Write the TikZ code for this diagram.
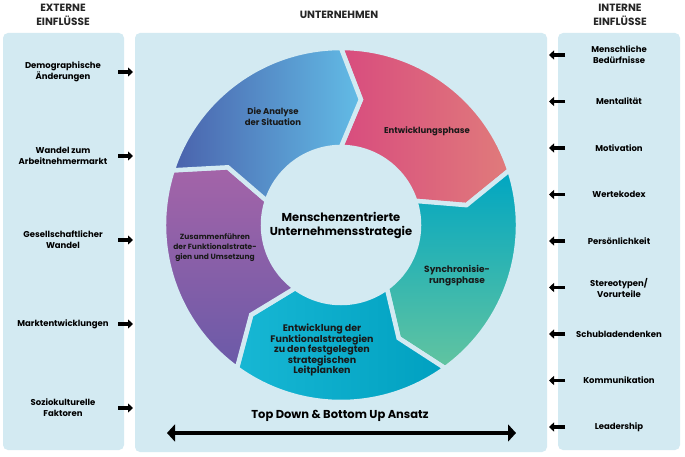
\documentclass[tikz,border=0pt]{standalone}
\usepackage{fontspec}
\setmainfont{Poppins}
\usetikzlibrary{arrows.meta}
\definecolor{panel}{HTML}{D3EAF2}
\definecolor{pinkA}{HTML}{D84C7E}\definecolor{pinkB}{HTML}{E07B7B}
\definecolor{tealA}{HTML}{00A6C2}\definecolor{tealB}{HTML}{62C4A0}
\definecolor{cyanA}{HTML}{17B7D4}\definecolor{cyanB}{HTML}{00A0C0}
\definecolor{purpA}{HTML}{A464A8}\definecolor{purpB}{HTML}{6A5AA8}
\definecolor{blueA}{HTML}{4A62AC}\definecolor{blueB}{HTML}{62BCE6}
\tikzset{
  box/.style={fill=panel,rounded corners=5pt},
  head/.style={font=\bfseries\fontsize{10.5}{14}\selectfont,align=center,text=black!85},
  infl/.style={font=\bfseries\fontsize{8.5}{11}\selectfont,align=center,text=black},
  seglbl/.style={font=\bfseries\fontsize{8.5}{11}\selectfont,align=center,text=black!90},
  infarrow/.style={line width=3.5pt,-{Triangle[length=5pt,width=9pt]}},
  seg1/.style={left color=pinkA,right color=pinkB,draw=panel,line width=4.5pt},
  seg2/.style={top color=tealA,bottom color=tealB,draw=panel,line width=4.5pt},
  seg3/.style={left color=cyanA,right color=cyanB,draw=panel,line width=4.5pt},
  seg4/.style={top color=purpA,bottom color=purpB,draw=panel,line width=4.5pt},
  seg5/.style={left color=blueA,right color=blueB,draw=panel,line width=4.5pt},
}
\begin{document}
\begin{tikzpicture}[x=1pt,y=1pt]
  \useasboundingbox (0,0) rectangle (685,456);
  \fill[white] (0,0) rectangle (685,456);
  \fill[box] (3,6) rectangle (124,423);
  \fill[box] (135,4) rectangle (547,423);
  \fill[box] (558,6) rectangle (680,423);
  \node[head] (hext) at (63,441) {EXTERNE\\EINFLÜSSE};
  \node[head] (hunt) at (339,441) {UNTERNEHMEN};
  \node[head] (hint) at (620,441) {INTERNE\\EINFLÜSSE};
  % ring
  \begin{scope}[shift={(341,231)}]
    \foreach \i/\a in {1/90,2/18,3/-54,4/-126,5/-198}
      \shadedraw[seg\i] (\a:177) arc[start angle=\a,end angle=\a-72,radius=177]
        -- ({\a-81}:127) -- ({\a-72}:78) arc[start angle=\a-72,end angle=\a,radius=78]
        -- ({\a-9}:127) -- cycle;
  \end{scope}
  \node[seglbl] (analyse) at (273,339) {Die Analyse\\der Situation};
  \node[seglbl] (entw) at (427,325) {Entwicklungsphase};
  \node[seglbl,font=\bfseries\fontsize{9}{11}\selectfont] (sync) at (457,180) {Synchronisie-\\rungsphase};
  \node[seglbl,font=\bfseries\fontsize{9.5}{10.5}\selectfont] (funk) at (322,106) {Entwicklung der\\Funktionalstrategien\\zu den festgelegten\\strategischen\\Leitplanken};
  \node[seglbl,font=\bfseries\fontsize{7.5}{10}\selectfont] (zus) at (215,208) {Zusammenführen\\der Funktionalstrate-\\gien und Umsetzung};
  \node[font=\bfseries\fontsize{11.5}{14}\selectfont,align=center] (kern) at (341,231) {Menschenzentrierte\\Unternehmensstrategie};
  % external
  \coordinate (lx) at (118,0);
  \foreach \t [count=\i] in {{Demographische\\Änderungen},{Wandel zum\\Arbeitnehmermarkt},{Gesellschaftlicher\\Wandel},Marktentwicklungen,{Soziokulturelle\\Faktoren}}{
    \node[infl] (ext\i) at (63,{384-84*(\i-1)}) {\t};
    \draw[infarrow] (ext\i -| lx) -- ++(15,0);
  }
  % internal
  \coordinate (rx) at (565,0);
  \foreach \t [count=\i] in {{Menschliche\\Bedürfnisse},Mentalität,Motivation,Wertekodex,Persönlichkeit,{Stereotypen/\\Vorurteile},Schubladendenken,Kommunikation,Leadership}{
    \node[infl] (int\i) at (619,{401-46.5*(\i-1)}) {\t};
    \draw[infarrow] (int\i -| rx) -- ++(-16,0);
  }
  % bottom
  \node[font=\bfseries\fontsize{11.5}{14}\selectfont] (ansatz) at (340,40) {Top Down \& Bottom Up Ansatz};
  \coordinate (tdl) at (167,23);
  \coordinate (tdr) at (516,23);
  \draw[line width=4pt,{Triangle[length=8pt,width=17pt]}-{Triangle[length=8pt,width=17pt]}] (tdl) -- (tdr);
\end{tikzpicture}
\end{document}
